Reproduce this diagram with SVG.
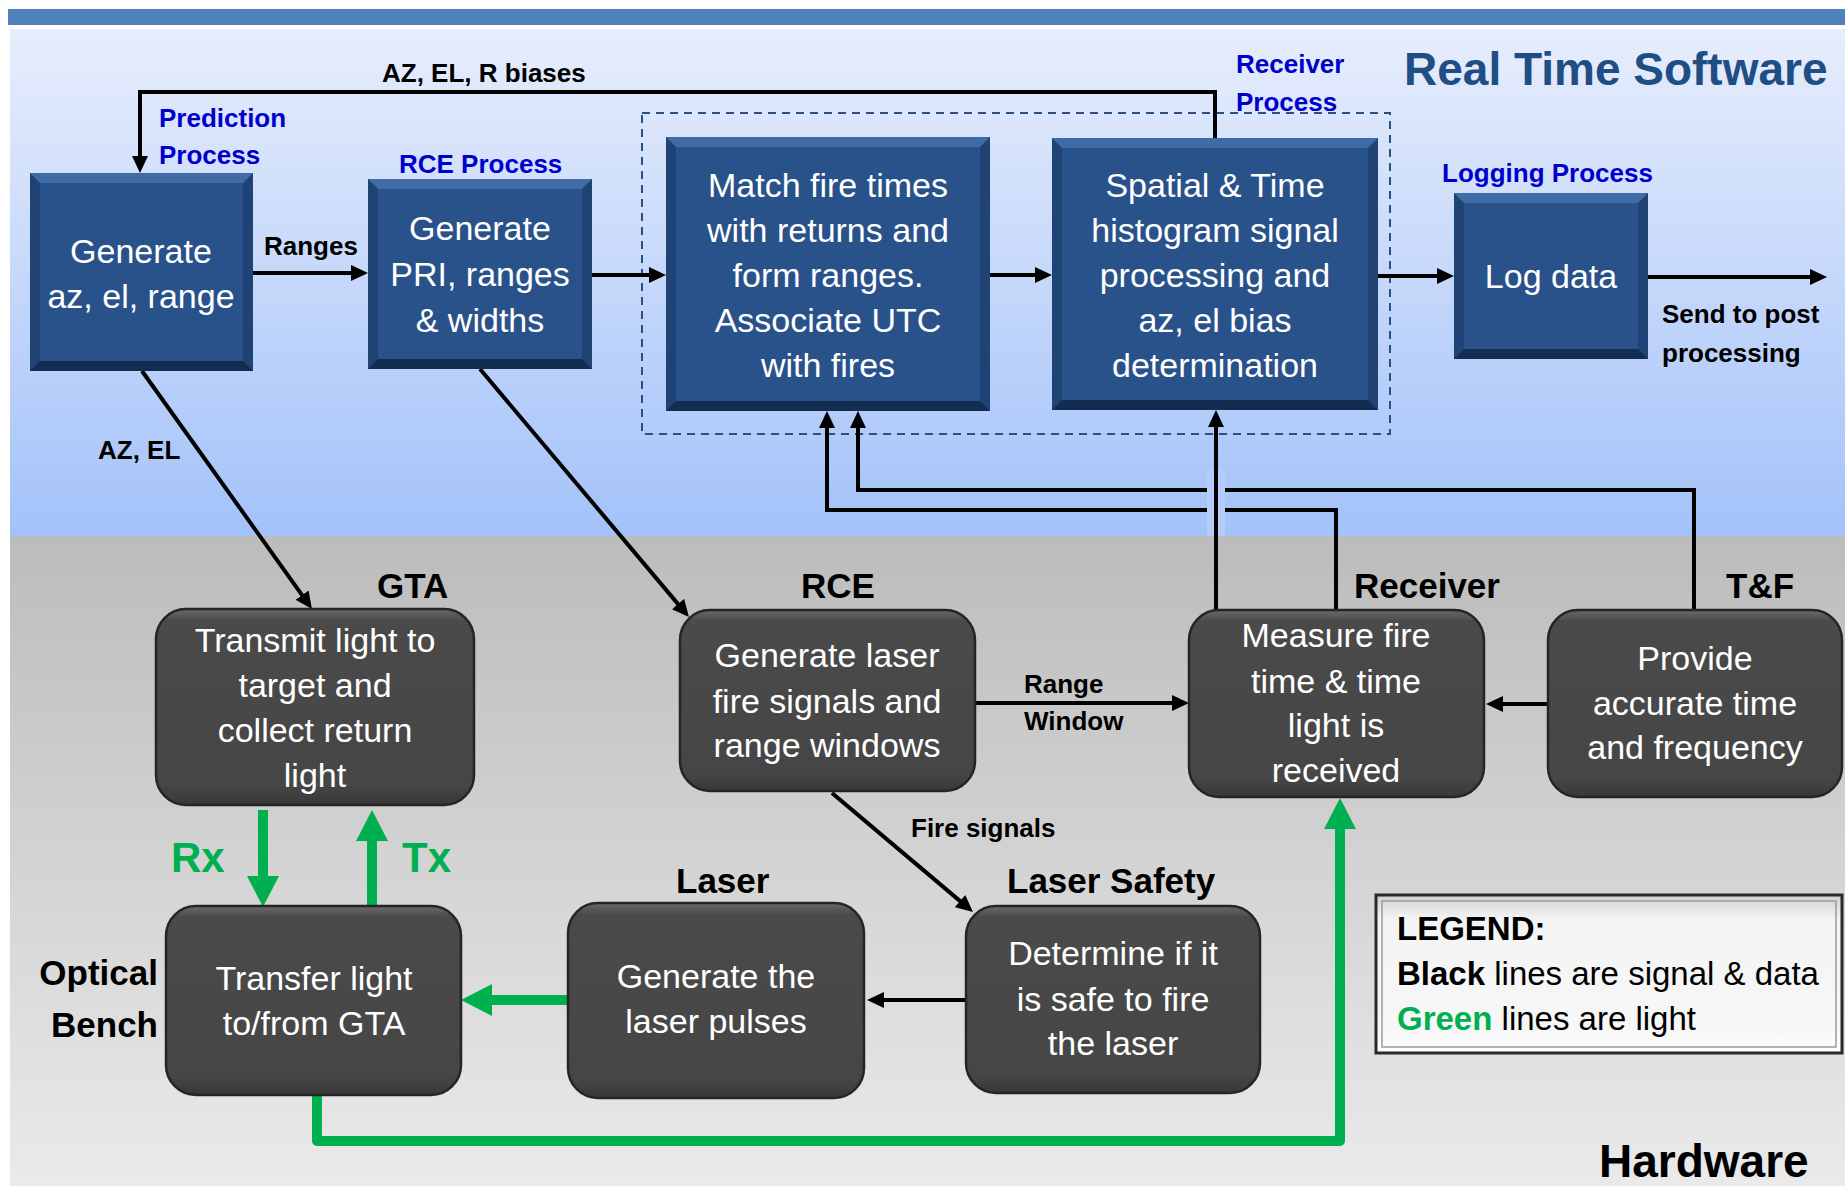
<svg xmlns="http://www.w3.org/2000/svg" width="1845" height="1186" viewBox="0 0 1845 1186">
<defs>
<linearGradient id="gsky" x1="0" y1="0" x2="0" y2="1"><stop offset="0" stop-color="#e7edfc"/><stop offset="1" stop-color="#a3c2f9"/></linearGradient>
<linearGradient id="ggray" x1="0" y1="0" x2="0" y2="1"><stop offset="0" stop-color="#bcbcbc"/><stop offset="1" stop-color="#eaeaea"/></linearGradient>
<linearGradient id="gnode" x1="0" y1="0" x2="0" y2="1"><stop offset="0" stop-color="#6a6a6a"/><stop offset="0.06" stop-color="#4a4a4a"/><stop offset="0.9" stop-color="#464646"/><stop offset="1" stop-color="#383838"/></linearGradient>
<linearGradient id="gleg" x1="0" y1="0" x2="0" y2="1"><stop offset="0" stop-color="#d0d0d0"/><stop offset="0.15" stop-color="#f4f4f4"/><stop offset="0.85" stop-color="#f7f7f7"/><stop offset="1" stop-color="#ffffff"/></linearGradient>
<marker id="ab" markerUnits="userSpaceOnUse" markerWidth="18" markerHeight="16" refX="4" refY="8" orient="auto"><path d="M0,0 L17,8 L0,16 z" fill="#000"/></marker>
<marker id="ag" markerUnits="userSpaceOnUse" markerWidth="32" markerHeight="32" refX="6" refY="16" orient="auto"><path d="M0,0 L31,16 L0,32 z" fill="#00b050"/></marker>
<style>
.side{fill:#1e4374}
.btop{fill:#3f6ca6}
.bbot{fill:#132d50}
.face{fill:#29528a}
.gn{fill:url(#gnode);stroke:#252525;stroke-width:2.5}
.t{font-family:"Liberation Sans",Arial,sans-serif}
.nt{font-family:"Liberation Sans",Arial,sans-serif;font-size:34px;fill:#fff;text-anchor:middle}
.lbl{font-family:"Liberation Sans",Arial,sans-serif;font-size:26px;font-weight:bold;fill:#000}
.proc{font-family:"Liberation Sans",Arial,sans-serif;font-size:26px;font-weight:bold;fill:#0000cc}
.hw{font-family:"Liberation Sans",Arial,sans-serif;font-size:35px;font-weight:bold;fill:#000}
.blk{fill:none;stroke:#000;stroke-width:4;stroke-linejoin:miter}
.grn{fill:none;stroke:#00b050;stroke-width:10;stroke-linejoin:round}
</style>
</defs>
<rect x="0" y="0" width="1845" height="1186" fill="#ffffff"/>
<rect x="8" y="9" width="1837" height="16" fill="#4f81bd"/>
<rect x="10" y="29" width="1835" height="507" fill="url(#gsky)"/>
<rect x="10" y="536" width="1835" height="650" fill="url(#ggray)"/>

<g id="areas">
<text class="t" x="1404" y="85" font-size="46" font-weight="bold" fill="#1f4e85">Real Time Software</text>
<text class="t" x="1599" y="1177" font-size="46" font-weight="bold" fill="#000">Hardware</text>
<rect x="642" y="113" width="748" height="321" fill="none" stroke="#2b4f7e" stroke-width="2" stroke-dasharray="8,6"/>
</g>

<g id="connectors">
<rect x="1207" y="470" width="18" height="66" fill="#b4ccf8"/>
<path class="blk" d="M1215,138 V92 H140 V160" marker-end="url(#ab)"/>
<path class="blk" d="M253,273 H355" marker-end="url(#ab)"/>
<path class="blk" d="M592,275 H653" marker-end="url(#ab)"/>
<path class="blk" d="M990,275 H1039" marker-end="url(#ab)"/>
<path class="blk" d="M1378,276 H1441" marker-end="url(#ab)"/>
<path class="blk" d="M1648,277 H1814" marker-end="url(#ab)"/>
<path class="blk" d="M142,371 L304.4,598.4" marker-end="url(#ab)"/>
<path class="blk" d="M480,369 L680.6,607.1" marker-end="url(#ab)"/>
<path class="blk" d="M975,703 H1176" marker-end="url(#ab)"/>
<path class="blk" d="M832,793 L963.1,903.6" marker-end="url(#ab)"/>
<path class="blk" d="M966,1000 H880" marker-end="url(#ab)"/>
<path class="blk" d="M1548,704 H1499" marker-end="url(#ab)"/>
<path class="blk" d="M1336,610 V510 H1225 M1207,510 H827 V424" marker-end="url(#ab)"/>
<path class="blk" d="M1694,610 V490 H1225 M1207,490 H858 V424" marker-end="url(#ab)"/>
<path class="blk" d="M1216,610 V423" marker-end="url(#ab)"/>
<path class="grn" d="M263,810 V882" marker-end="url(#ag)"/>
<path class="grn" d="M372,907 V835" marker-end="url(#ag)"/>
<path class="grn" d="M568,1000 H486" marker-end="url(#ag)"/>
<path class="grn" d="M317,1095 V1141 H1340 V823" marker-end="url(#ag)"/>
<text class="lbl" x="382" y="82">AZ, EL, R biases</text>
<text class="lbl" x="264" y="255">Ranges</text>
<text class="lbl" x="98" y="459">AZ, EL</text>
<text class="lbl" x="1662" y="323">Send to post</text>
<text class="lbl" x="1662" y="362">processing</text>
<text class="lbl" x="1024" y="693">Range</text>
<text class="lbl" x="1024" y="730">Window</text>
<text class="lbl" x="911" y="837">Fire signals</text>
<text class="t" x="171" y="872" font-size="42" font-weight="bold" fill="#00b050">Rx</text>
<text class="t" x="402" y="872" font-size="42" font-weight="bold" fill="#00b050">Tx</text>
</g>

<g id="n-predict">
<rect class="side" x="30" y="173" width="223" height="198"/>
<polygon class="btop" points="30,173 253,173 243,183 40,183"/>
<polygon class="bbot" points="30,371 253,371 243,361 40,361"/>
<rect class="face" x="40" y="183" width="203" height="178"/>
<text class="proc" x="159" y="127">Prediction</text>
<text class="proc" x="159" y="164">Process</text>
<text class="nt" x="141" y="263">Generate</text>
<text class="nt" x="141" y="308">az, el, range</text>
</g>

<g id="n-rceproc">
<rect class="side" x="368" y="179" width="224" height="190"/>
<polygon class="btop" points="368,179 592,179 582,189 378,189"/>
<polygon class="bbot" points="368,369 592,369 582,359 378,359"/>
<rect class="face" x="378" y="189" width="204" height="170"/>
<text class="proc" x="399" y="173">RCE Process</text>
<text class="nt" x="480" y="240">Generate</text>
<text class="nt" x="480" y="286">PRI, ranges</text>
<text class="nt" x="480" y="332">&amp; widths</text>
</g>

<g id="n-match">
<rect class="side" x="666" y="137" width="324" height="274"/>
<polygon class="btop" points="666,137 990,137 980,147 676,147"/>
<polygon class="bbot" points="666,411 990,411 980,401 676,401"/>
<rect class="face" x="676" y="147" width="304" height="254"/>
<text class="nt" x="828" y="197">Match fire times</text>
<text class="nt" x="828" y="242">with returns and</text>
<text class="nt" x="828" y="287">form ranges.</text>
<text class="nt" x="828" y="332">Associate UTC</text>
<text class="nt" x="828" y="377">with fires</text>
</g>

<g id="n-spatial">
<rect class="side" x="1052" y="138" width="326" height="272"/>
<polygon class="btop" points="1052,138 1378,138 1368,148 1062,148"/>
<polygon class="bbot" points="1052,410 1378,410 1368,400 1062,400"/>
<rect class="face" x="1062" y="148" width="306" height="252"/>
<text class="proc" x="1236" y="73">Receiver</text>
<text class="proc" x="1236" y="111">Process</text>
<text class="nt" x="1215" y="197">Spatial &amp; Time</text>
<text class="nt" x="1215" y="242">histogram signal</text>
<text class="nt" x="1215" y="287">processing and</text>
<text class="nt" x="1215" y="332">az, el bias</text>
<text class="nt" x="1215" y="377">determination</text>
</g>

<g id="n-log">
<rect class="side" x="1454" y="193" width="194" height="166"/>
<polygon class="btop" points="1454,193 1648,193 1638,203 1464,203"/>
<polygon class="bbot" points="1454,359 1648,359 1638,349 1464,349"/>
<rect class="face" x="1464" y="203" width="174" height="146"/>
<text class="proc" x="1442" y="182">Logging Process</text>
<text class="nt" x="1551" y="288">Log data</text>
</g>

<g id="n-gta">
<rect class="gn" x="156" y="609" width="318" height="196" rx="30"/>
<text class="hw" x="377" y="598">GTA</text>
<text class="nt" x="315" y="652">Transmit light to</text>
<text class="nt" x="315" y="697">target and</text>
<text class="nt" x="315" y="742">collect return</text>
<text class="nt" x="315" y="787">light</text>
</g>

<g id="n-rce">
<rect class="gn" x="680" y="610" width="295" height="181" rx="30"/>
<text class="hw" x="801" y="598">RCE</text>
<text class="nt" x="827" y="667">Generate laser</text>
<text class="nt" x="827" y="713">fire signals and</text>
<text class="nt" x="827" y="757">range windows</text>
</g>

<g id="n-receiver">
<rect class="gn" x="1189" y="610" width="295" height="187" rx="30"/>
<text class="hw" x="1354" y="598">Receiver</text>
<text class="nt" x="1336" y="647">Measure fire</text>
<text class="nt" x="1336" y="693">time &amp; time</text>
<text class="nt" x="1336" y="737">light is</text>
<text class="nt" x="1336" y="782">received</text>
</g>

<g id="n-tf">
<rect class="gn" x="1548" y="610" width="294" height="187" rx="30"/>
<text class="hw" x="1726" y="598">T&amp;F</text>
<text class="nt" x="1695" y="670">Provide</text>
<text class="nt" x="1695" y="715">accurate time</text>
<text class="nt" x="1695" y="759">and frequency</text>
</g>

<g id="n-optical">
<rect class="gn" x="166" y="906" width="295" height="189" rx="30"/>
<text class="hw" x="158" y="985" text-anchor="end">Optical</text>
<text class="hw" x="158" y="1037" text-anchor="end">Bench</text>
<text class="nt" x="314" y="990">Transfer light</text>
<text class="nt" x="314" y="1035">to/from GTA</text>
</g>

<g id="n-laser">
<rect class="gn" x="568" y="903" width="296" height="195" rx="30"/>
<text class="hw" x="676" y="893">Laser</text>
<text class="nt" x="716" y="988">Generate the</text>
<text class="nt" x="716" y="1033">laser pulses</text>
</g>

<g id="n-safety">
<rect class="gn" x="966" y="906" width="294" height="187" rx="30"/>
<text class="hw" x="1007" y="893">Laser Safety</text>
<text class="nt" x="1113" y="965">Determine if it</text>
<text class="nt" x="1113" y="1011">is safe to fire</text>
<text class="nt" x="1113" y="1055">the laser</text>
</g>

<g id="legend">
<rect x="1376" y="895" width="466" height="158" fill="url(#gleg)" stroke="#2a2a2a" stroke-width="3"/>
<rect x="1382" y="901" width="454" height="146" fill="none" stroke="#9a9a9a" stroke-width="1.5"/>
<text class="t" x="1397" y="940" font-size="33" font-weight="bold" fill="#000">LEGEND:</text>
<text class="t" x="1397" y="985" font-size="33" fill="#000"><tspan font-weight="bold">Black</tspan> lines are signal &amp; data</text>
<text class="t" x="1397" y="1030" font-size="33" fill="#000"><tspan font-weight="bold" fill="#00b050">Green</tspan> lines are light</text>
</g>
</svg>
